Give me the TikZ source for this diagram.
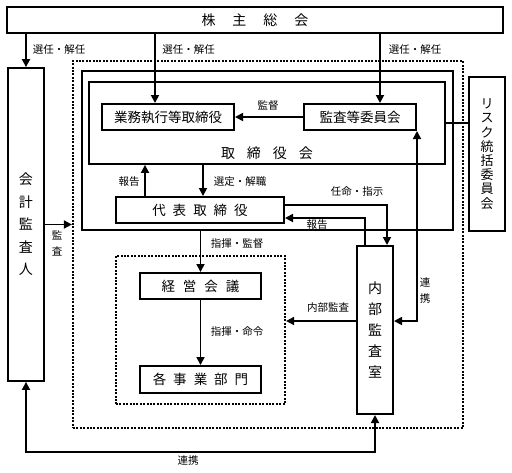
\documentclass[tikz,border=0pt]{standalone}
\usepackage{fontspec}
\setmainfont{Noto Sans CJK JP}
\usetikzlibrary{arrows.meta,calc}
\begin{document}
\begin{tikzpicture}[x=1pt,y=-1pt,
 box/.style={draw, line width=2pt, inner sep=0pt, font=\fontsize{13.5}{14}\selectfont},
 frame/.style={draw, line width=1.8pt, inner sep=0pt},
 dotframe/.style={draw, line width=2.2pt, dash pattern=on 2pt off 1.4pt, inner sep=0pt},
 arr/.style={line width=1.7pt, -{Triangle[length=8pt,width=8pt]}},
 arrb/.style={line width=1.7pt, {Triangle[length=8pt,width=8pt]}-{Triangle[length=8pt,width=8pt]}},
 lbl/.style={font=\fontsize{10.5}{12}\selectfont, inner sep=0pt},
]
\useasboundingbox (0,0) rectangle (512,472);
% frames
\node[dotframe, minimum width=390pt, minimum height=367pt] (dotout) at (268,244.5) {};
\node[frame, minimum width=371pt, minimum height=159pt] (outer) at (267.5,150.5) {};
\node[frame, minimum width=356pt, minimum height=82pt] (tb) at (267,123) {};
\node[dotframe, minimum width=169pt, minimum height=148pt] (dotin) at (200.5,330) {};
% boxes
\node[frame, minimum width=496pt, minimum height=26pt, font=\fontsize{14}{16}\selectfont] (sh) at (255,20) {株\hspace{17pt}主\hspace{17pt}総\hspace{17pt}会};
\node[frame, align=center, minimum width=36pt, minimum height=313pt, font=\fontsize{14}{22.5}\selectfont] (ka) at (26,224.5) {会\\計\\監\\査\\人};
\node[font=\fontsize{14}{16}\selectfont, inner sep=0pt] (tbl) at (267,153) {取\hspace{12pt}締\hspace{12pt}役\hspace{12pt}会};
\node[box, minimum width=132pt, minimum height=26pt] (gyo) at (168,117) {業務執行等取締役};
\node[box, minimum width=112pt, minimum height=26pt] (kan) at (360,117) {監査等委員会};
\node[box, minimum width=168pt, minimum height=26pt] (dh) at (200,210) {代\hspace{7pt}表\hspace{7pt}取\hspace{7pt}締\hspace{7pt}役};
\node[frame, align=center, minimum width=36pt, minimum height=154pt, font=\fontsize{13}{14.2}\selectfont] (risk) at (487,154) {リ\\ス\\ク\\統\\括\\委\\員\\会};
\node[box, minimum width=121pt, minimum height=26pt] (kei) at (200.5,286) {経\hspace{8pt}営\hspace{8pt}会\hspace{8pt}議};
\node[box, minimum width=121pt, minimum height=27pt] (kaku) at (200.5,379.5) {各\hspace{7pt}事\hspace{7pt}業\hspace{7pt}部\hspace{7pt}門};
\node[box, align=center, minimum width=36pt, minimum height=168pt, font=\fontsize{14}{21}\selectfont] (nai) at (375,330) {内\\部\\監\\査\\室};
% labels
\node[lbl] (l1) at (59,50) {選任・解任};
\node[lbl] (l2) at (188.5,50) {選任・解任};
\node[lbl] (l3) at (415,50) {選任・解任};
\node[lbl] (l4) at (268,106) {監督};
\node[lbl] (l5) at (129,182) {報告};
\node[lbl] (l6) at (240,182) {選定・解職};
\node[lbl] (l7) at (357,192) {任命・指示};
\node[lbl] (l8) at (317,225) {報告};
\node[lbl] (l9) at (237,244) {指揮・監督};
\node[lbl] (l10) at (328,308) {内部監査};
\node[lbl] (l11) at (237,332) {指揮・命令};
\node[lbl] (l12) at (188,461) {連携};
\node[lbl, align=center, font=\fontsize{10.5}{15.5}\selectfont] (l13) at (57,243.5) {監\\査};
\node[lbl, align=center, font=\fontsize{10.5}{16}\selectfont] (l14) at (425,291) {連\\携};
% connectors
\draw[arr] (ka.north |- sh.south) -- (ka.north);
\coordinate (g1) at ($(gyo.north)+(-13,0)$);
\draw[arr] (g1 |- sh.south) -- (g1);
\coordinate (k1) at ($(kan.north)+(20,0)$);
\draw[arr] (k1 |- sh.south) -- (k1);
\draw[arr] (kan.west) -- (gyo.east);
\draw[line width=1.7pt] (tb.east) -- (tb.east -| risk.west);
\coordinate (d1) at ($(dh.north)+(-55,0)$);
\draw[arr] (d1) -- (d1 |- tb.south);
\coordinate (d2) at ($(dh.north)+(3,0)$);
\draw[arr] (d2 |- tb.south) -- (d2);
\coordinate (d3) at ($(dh.east)+(0,-5)$);
\coordinate (n1) at ($(nai.north)+(12,0)$);
\draw[arr] (d3) -| (n1);
\coordinate (n2) at ($(nai.north)+(-10,0)$);
\coordinate (d4) at ($(dh.east)+(0,8)$);
\draw[arr] (n2) |- (d4);
\coordinate (n3) at ($(nai.east)+(0,-9)$);
\draw[arrb] (kan.south east) |- (n3);
\coordinate (n4) at ($(nai.west)+(0,-9)$);
\draw[arr] (n4) -- (n4 -| dotin.east);
\draw[arr] (kei.north |- outer.south) -- (kei.north);
\draw[arr] (kei.south) -- (kaku.north);
\draw[arr] (ka.east) -- (ka.east -| dotout.west);
\coordinate (bot) at (0,452);
\draw[arrb] (ka.south) -- (ka.south |- bot) -| (nai.south);
\end{tikzpicture}
\end{document}
